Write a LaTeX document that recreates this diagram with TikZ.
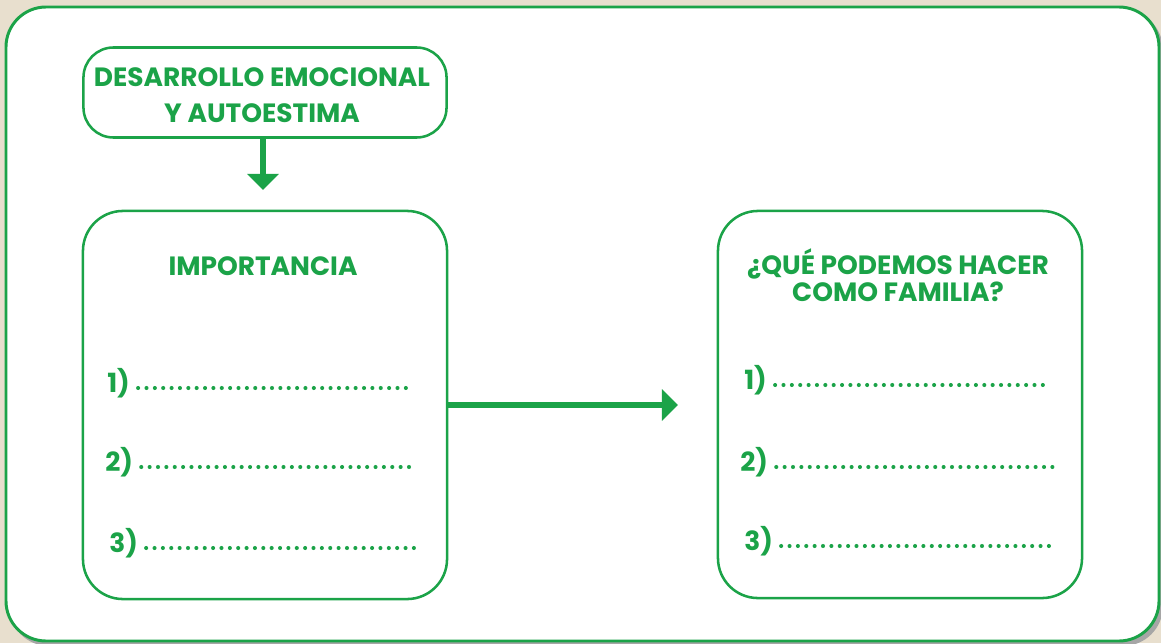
\documentclass[tikz,border=0pt]{standalone}
\usepackage{fontspec}
\setmainfont{Poppins}
\usetikzlibrary{positioning, calc, arrows.meta}

\definecolor{leaf}{RGB}{27,163,72}
\definecolor{sand}{RGB}{232,223,206}

\begin{document}
\begin{tikzpicture}[x=0.025cm, y=-0.025cm, >={Triangle[width=22pt, length=11.5pt]},
    box/.style={draw=leaf, line width=1.8pt, fill=white, rounded corners=1cm, inner sep=0pt},
    title/.style={text=leaf, font=\bfseries\fontsize{18.8}{25.5}\selectfont, align=center},
    num/.style={text=leaf, font=\bfseries\fontsize{18.8}{20}\selectfont, inner sep=0pt},
    dots/.style={leaf, line width=2.9pt, line cap=round, dash pattern=on 0pt off 5.95pt},
    link/.style={->, leaf, line width=3.6pt}]
  \useasboundingbox (0,0) rectangle (1161,643);
  \fill[sand] (0,0) rectangle (1161,643);
  \fill[gray!70, rounded corners=1cm] (9,10) rectangle (1163,646);
  \draw[leaf, line width=2.1pt, fill=white, rounded corners=1cm] (6,7) rectangle (1159,641);

  % boxes
  \node[box, minimum width=9.075cm, minimum height=2.25cm, rounded corners=0.75cm] (top) at (265,92.5) {};
  \node[box, minimum width=9.1cm, minimum height=9.7cm] (left) at (265,405) {};
  \node[box, minimum width=9.1cm, minimum height=9.675cm] (right) at (900,404.5) {};

  % titles
  \node[title] (toptxt) at (262,95) {DESARROLLO EMOCIONAL\\Y AUTOESTIMA};
  \node[title] (imp) at (263,266) {IMPORTANCIA};
  \node[title, font=\bfseries\fontsize{18.8}{19.5}\selectfont] (que) at (898,275) {¿QUÉ PODEMOS HACER\\COMO FAMILIA?};

  % arrows
  \coordinate (downtip) at (263,190);
  \coordinate (righttip) at (678,405);
  \draw[link] (top.south -| downtip) -- (downtip);
  \draw[link] (left.east) -- (righttip);

  % lines to fill in
  \node[num, anchor=base west] (a1) at (107,392) {1)};
  \node[num, anchor=base west] (a2) at (105,471) {2)};
  \node[num, anchor=base west] (a3) at (109,552) {3)};
  \node[num, anchor=base west] (b1) at (744,389) {1)};
  \node[num, anchor=base west] (b2) at (740,471) {2)};
  \node[num, anchor=base west] (b3) at (744,550) {3)};
  \draw[dots] ($(a1.base east)+(8,-4)$) -- (414,388);
  \draw[dots] ($(a2.base east)+(8,-4)$) -- (417,467);
  \draw[dots] ($(a3.base east)+(8,-4)$) -- (414,548);
  \draw[dots] ($(b1.base east)+(8,-4)$) -- (1050,385);
  \draw[dots] ($(b2.base east)+(8,-4)$) -- (1053,467);
  \draw[dots] ($(b3.base east)+(8,-4)$) -- (1049,546);
\end{tikzpicture}
\end{document}
